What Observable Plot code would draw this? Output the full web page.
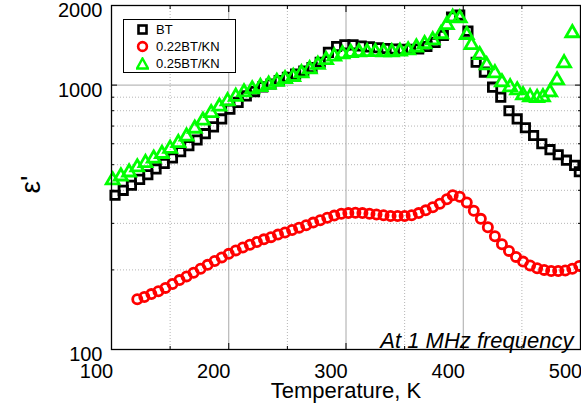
<!DOCTYPE html>
<html>
<head>
<meta charset="utf-8">
<script src="https://cdn.jsdelivr.net/npm/d3@7"></script>
<script src="https://cdn.jsdelivr.net/npm/@observablehq/plot@0.6"></script>
<style>
  html, body { margin: 0; padding: 0; background: #fff; }
  #wrap { position: relative; width: 581px; height: 408px; font-family: "Liberation Sans", Arial, sans-serif; }
  #legend { position: absolute; left: 123px; top: 19px; width: 111px; height: 52px; border: 1px solid #000; background: #fff; font-size: 13px; }
  .row { position: absolute; left: 0; height: 17px; display: flex; align-items: center; }
  .row svg { margin-left: 12px; }
  .row span { margin-left: 7px; }
</style>
</head>
<body>
<div id="wrap">
  <div id="chart"></div>
  <div id="legend"></div>
</div>
<script>
// ---- data ----
const seriesNames = ["BT", "0.22BT/KN", "0.25BT/KN"];
const seriesColors = ["#000000", "#ff0000", "#00ff00"];

const btT   = [103,110,117,124,131,138,145,152,159,166,173,180,187,194,201,208,215,222,229,236,243,250,257,264,271,278,285,292,299,306,313,320,327,334,341,348,355,362,369,376,383,390,397,404,411,418,425,432,439,446,453,460,467,474,481,488,495,499];
const btEps = [383,400,418,440,458,482,505,530,560,590,620,655,695,745,810,860,910,945,985,1010,1040,1070,1100,1130,1165,1220,1330,1400,1420,1420,1405,1395,1385,1375,1370,1365,1365,1370,1400,1450,1540,1810,1840,1600,1220,1120,982,900,800,745,690,645,600,570,545,520,497,470];

const kn22T   = [122,128,134,140,146,152,158,164,170,176,182,188,194,200,206,212,218,224,230,236,242,248,254,260,266,272,278,284,290,296,302,308,314,320,326,332,338,344,350,356,362,368,374,380,386,391,397,403,409,415,421,427,433,439,445,451,457,463,469,475,481,487,493,499];
const kn22Eps = [155,158,162,166,171,177,183,189,195,202,209,216,223,230,237,243,249,255,261,266,272,277,283,289,295,302,308,315,321,326,328,329,328,326,324,322,320,320,320,322,328,336,345,356,370,383,378,360,335,312,290,268,250,236,224,215,208,203,200,198,198,199,202,207];

const kn25T   = [101,108,115,122,129,136,143,150,157,164,171,178,185,192,199,206,213,220,227,234,241,248,255,262,269,276,283,290,297,304,311,318,325,332,339,346,353,360,367,374,381,386,391,397,403,407,414,420,427,433,440,446,451,457,463,468,474,480,486,493];
const kn25Eps = [437,452,468,489,508,528,550,575,605,640,685,735,785,830,870,905,940,965,985,1005,1030,1055,1075,1110,1150,1195,1245,1285,1310,1325,1334,1335,1335,1334,1334,1340,1355,1390,1430,1480,1560,1690,1800,1790,1550,1420,1300,1190,1110,1026,983,957,917,901,895,901,940,1044,1211,1574];

const xMajor = [100, 200, 300, 400, 500];
const xMinor = [150, 250, 350, 450];
const xGrid  = [200, 300, 400];
const yMajor = [100, 1000, 2000];
const yMinor = [200, 300, 400, 500, 600, 700, 800, 900];

const xLabel = "Temperature, K";
const yLabel = "ε'";
const note = "At 1 MHz frequency";

// ---- tables ----
const bt = btT.map((t, i) => ({T: t, eps: btEps[i]}));
const kn22 = kn22T.map((t, i) => ({T: t, eps: kn22Eps[i]}));
const kn25 = kn25T.map((t, i) => ({T: t, eps: kn25Eps[i]}));

const font = "Liberation Sans, Arial, sans-serif";
const blank = () => "";

const chart = Plot.plot({
  width: 581,
  height: 408,
  marginLeft: 111,
  marginRight: 1,
  marginTop: 5,
  marginBottom: 59,
  style: {fontFamily: font, background: "#fff", overflow: "visible"},
  x: {domain: [100, 500]},
  y: {type: "log", domain: [100, 2000]},
  marks: [
    Plot.gridX(xMinor, {stroke: "#b5b5b5", strokeOpacity: 1, strokeDasharray: "1,2"}),
    Plot.gridY(yMinor, {stroke: "#b5b5b5", strokeOpacity: 1, strokeDasharray: "1,2"}),
    Plot.gridX(xGrid, {stroke: "#a8a8a8", strokeOpacity: 1}),
    Plot.gridY([1000], {stroke: "#a8a8a8", strokeOpacity: 1}),
    // ticks (inward, all four sides)
    Plot.axisX(xMajor, {anchor: "bottom", tickSize: -6, tickFormat: blank, label: null}),
    Plot.axisX(xMinor, {anchor: "bottom", tickSize: -3, tickFormat: blank, label: null}),
    Plot.axisX(xMajor, {anchor: "top", tickSize: -6, tickFormat: blank, label: null}),
    Plot.axisX(xMinor, {anchor: "top", tickSize: -3, tickFormat: blank, label: null}),
    Plot.axisY([1000], {anchor: "left", tickSize: -6, tickFormat: blank, label: null}),
    Plot.axisY(yMinor, {anchor: "left", tickSize: -3, tickFormat: blank, label: null}),
    Plot.axisY([1000], {anchor: "right", tickSize: -6, tickFormat: blank, label: null}),
    Plot.axisY(yMinor, {anchor: "right", tickSize: -3, tickFormat: blank, label: null}),
    // tick labels
    Plot.axisX(xMajor, {anchor: "bottom", tickSize: 0, tickPadding: 14, dx: -15, fontSize: 20, fill: "#000",
      tickFormat: d => String(d), label: null}),
    Plot.axisY(yMajor, {anchor: "left", tickSize: 0, tickPadding: 9, dy: 5, fontSize: 20, fill: "#000",
      tickFormat: d => String(d), label: null}),
    Plot.text([xLabel], {frameAnchor: "bottom", text: d => d, lineAnchor: "middle", dy: 41, fontSize: 22, fill: "#000"}),
    Plot.text([yLabel], {frameAnchor: "left", text: d => d, rotate: -90, dx: -80, dy: 16, fontSize: 28, fill: "#000"}),
    // data
    Plot.dot(bt, {x: "T", y: "eps", symbol: "square", r: 4.7, stroke: seriesColors[0], strokeWidth: 2.8, fill: "none"}),
    Plot.dot(kn22, {x: "T", y: "eps", symbol: "circle", r: 4.6, stroke: seriesColors[1], strokeWidth: 2.8, fill: "none"}),
    Plot.dot(kn25, {x: "T", y: "eps", symbol: "triangle", r: 4.8, stroke: seriesColors[2], strokeWidth: 2.8, fill: "none"}),
    Plot.frame({stroke: "#000", strokeWidth: 1.3}),
    Plot.text([note], {frameAnchor: "bottom-right", text: d => d, textAnchor: "end", lineAnchor: "bottom",
      dx: -7, dy: -2, fontSize: 22, fontStyle: "italic", fill: "#000"})
  ]
});

document.getElementById("chart").appendChild(chart);

// ---- legend ----
const legend = document.getElementById("legend");
const glyphs = [
  '<rect x="2.5" y="2.5" width="8" height="8" fill="none" stroke="#000" stroke-width="2.6"/>',
  '<circle cx="6.5" cy="6.5" r="4.4" fill="none" stroke="#ff0000" stroke-width="2.6"/>',
  '<path d="M6.5,1.5 L12,11.5 L1,11.5 Z" fill="none" stroke="#00ff00" stroke-width="2.4" stroke-linejoin="miter"/>'
];
seriesNames.forEach((name, i) => {
  const row = document.createElement("div");
  row.className = "row";
  row.style.top = (1 + i * 17) + "px";
  row.innerHTML = `<svg width="13" height="13" viewBox="0 0 13 13">${glyphs[i]}</svg><span>${name}</span>`;
  legend.appendChild(row);
});
</script>
</body>
</html>
